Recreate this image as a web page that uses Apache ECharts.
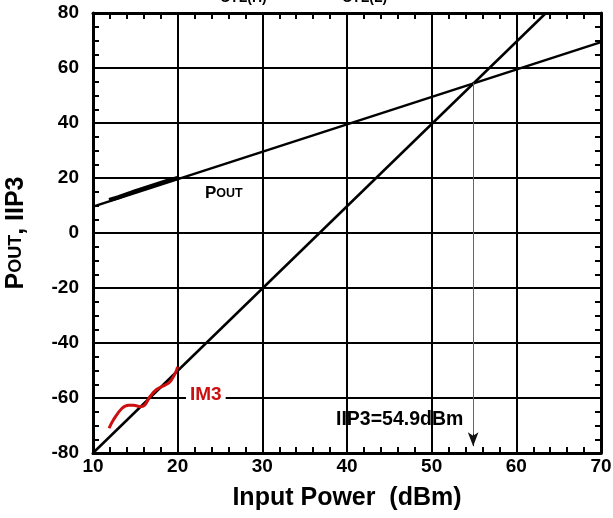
<!DOCTYPE html>
<html>
<head>
<meta charset="utf-8">
<script src="https://cdn.jsdelivr.net/npm/echarts@6/dist/echarts.min.js"></script>
<style>html,body{margin:0;padding:0;background:#fff}#c{width:613px;height:518px}</style>
</head>
<body>
<div id="c"></div>
<script>
// X axis: input power (dBm); Y axis: POUT, IIP3 (dBm)
var xTicks = [10, 20, 30, 40, 50, 60, 70];
var yTicks = [-80, -60, -40, -20, 0, 20, 40, 60, 80];

// Extrapolated fundamental (slope ~1) line
var poutFitX = [10, 70];
var poutFitY = [9.6, 69.4];
// Extrapolated IM3 (slope ~3) line
var im3FitX = [10, 63.5];
var im3FitY = [-80, 80];

// Measured POUT
var poutMeasX = [11.9, 13, 14, 15, 16, 17, 18, 19, 20];
var poutMeasY = [12.0, 13.0, 14.1, 15.2, 16.2, 17.2, 18.2, 19.2, 20.0];

// Measured IM3
var im3MeasX = [11.9, 12.4, 13.4, 14.2, 14.8, 15.55, 16.1, 16.7, 17.5, 18.5, 19.1, 19.7, 20.0];
var im3MeasY = [-71.0, -68.0, -63.8, -62.6, -62.6, -63.2, -62.6, -59.6, -56.9, -55.3, -54.1, -51.1, -48.7];

// IIP3 marker
var iip3X = 54.9;
var iip3Top = 54.6;
var iip3HeadStart = -73;
var iip3Bottom = -77.5;

function pairs(xs, ys) { return xs.map(function (x, i) { return [x, ys[i]]; }); }

var FONT = 'Liberation Sans, Arial, sans-serif';
var chart = echarts.init(document.getElementById('c'), null, { renderer: 'canvas' });

function xAx(pos, showLabel) {
  return {
    type: 'value', position: pos, min: 10, max: 70, interval: 10,
    axisLine: { show: true, onZero: false, lineStyle: { color: '#000', width: 3 } },
    axisTick: { show: true, inside: true, length: 6, lineStyle: { color: '#000', width: 2 } },
    minorTick: { show: true, splitNumber: 5, length: 6, lineStyle: { color: '#000', width: 2 } },
    splitLine: { show: showLabel, lineStyle: { color: '#000', width: 2 } },
    axisLabel: { show: showLabel, margin: 4, color: '#000', fontFamily: FONT, fontWeight: 'bold', fontSize: 19 },
    name: showLabel ? 'Input Power  (dBm)' : '',
    nameLocation: 'middle', nameGap: 33,
    nameTextStyle: { color: '#000', fontFamily: FONT, fontWeight: 'bold', fontSize: 25 }
  };
}
function yAx(pos, showLabel) {
  return {
    type: 'value', position: pos, min: -80, max: 80, interval: 20,
    axisLine: { show: true, onZero: false, lineStyle: { color: '#000', width: 3 } },
    axisTick: { show: true, inside: true, length: 6, lineStyle: { color: '#000', width: 2 } },
    minorTick: { show: true, splitNumber: 4, length: 6, lineStyle: { color: '#000', width: 2 } },
    splitLine: { show: showLabel, lineStyle: { color: '#000', width: 2 } },
    axisLabel: { show: showLabel, margin: 14, color: '#000', fontFamily: FONT, fontWeight: 'bold', fontSize: 19 },
    name: showLabel ? '{a|P}{b|OUT}{a|, IIP3}' : '',
    nameLocation: 'middle', nameGap: 64, nameRotate: 90,
    nameTextStyle: {
      color: '#000', fontFamily: FONT, fontWeight: 'bold',
      rich: {
        a: { fontFamily: FONT, fontWeight: 'bold', fontSize: 25, color: '#000' },
        b: { fontFamily: FONT, fontWeight: 'bold', fontSize: 18, color: '#000' }
      }
    }
  };
}

chart.setOption({
  animation: false,
  backgroundColor: '#fff',
  grid: { left: 93, right: 12, top: 13, bottom: 65, containLabel: false, outerBoundsMode: 'none' },
  xAxis: [xAx('bottom', true), xAx('top', false)],
  yAxis: [yAx('left', true), yAx('right', false)],
  series: [
    {
      type: 'line', data: pairs(poutFitX, poutFitY), symbol: 'none', silent: true,
      lineStyle: { color: '#000', width: 2.5 }, z: 3
    },
    {
      type: 'line', data: pairs(im3FitX, im3FitY), symbol: 'none', silent: true,
      lineStyle: { color: '#000', width: 2.5 }, z: 3,
      markLine: {
        silent: true, symbol: ['none', 'none'],
        label: { show: false },
        lineStyle: { color: '#666', width: 1, type: 'solid' },
        data: [[{ coord: [iip3X, iip3Top] }, { coord: [iip3X, iip3HeadStart] }]]
      }
    },
    {
      type: 'line', data: pairs(poutMeasX, poutMeasY), symbol: 'none', silent: true,
      lineStyle: { color: '#000', width: 4 }, z: 4,
      markLine: {
        silent: true, symbol: ['none', 'arrow'], symbolSize: [8, 14],
        label: { show: false },
        lineStyle: { color: '#111', width: 1, type: 'solid' },
        data: [[{ coord: [iip3X, iip3HeadStart] }, { coord: [iip3X, iip3Bottom] }]]
      }
    },
    {
      type: 'line', data: pairs(im3MeasX, im3MeasY), symbol: 'none', smooth: 0.4, silent: true,
      lineStyle: { color: '#cc1010', width: 3 }, z: 5
    }
  ],
  graphic: [
    {
      type: 'text', left: 205, top: 185, z: 10,
      style: {
        text: '{a|P}{b|OUT}',
        rich: {
          a: { fontFamily: FONT, fontWeight: 'bold', fontSize: 17, fill: '#000' },
          b: { fontFamily: FONT, fontWeight: 'bold', fontSize: 12.5, fill: '#000' }
        }
      }
    },
    {
      type: 'text', left: 186, top: 384, z: 10,
      style: {
        text: 'IM3', fill: '#cc1010', fontFamily: FONT, fontWeight: 'bold', fontSize: 19,
        backgroundColor: '#fff', padding: [1, 4, 1, 4]
      }
    },
    {
      type: 'text', left: 336, top: 410, z: 10,
      style: { text: 'IIP3=54.9dBm', fill: '#000', fontFamily: FONT, fontWeight: 'bold', fontSize: 19.5 }
    },
    {
      type: 'text', left: 220, top: -9, z: 10,
      style: { text: 'CTL(H)', fill: '#000', fontFamily: FONT, fontWeight: 'bold', fontSize: 14 }
    },
    {
      type: 'text', left: 342, top: -9, z: 10,
      style: { text: 'CTL(L)', fill: '#000', fontFamily: FONT, fontWeight: 'bold', fontSize: 14 }
    }
  ]
});
</script>
</body>
</html>
